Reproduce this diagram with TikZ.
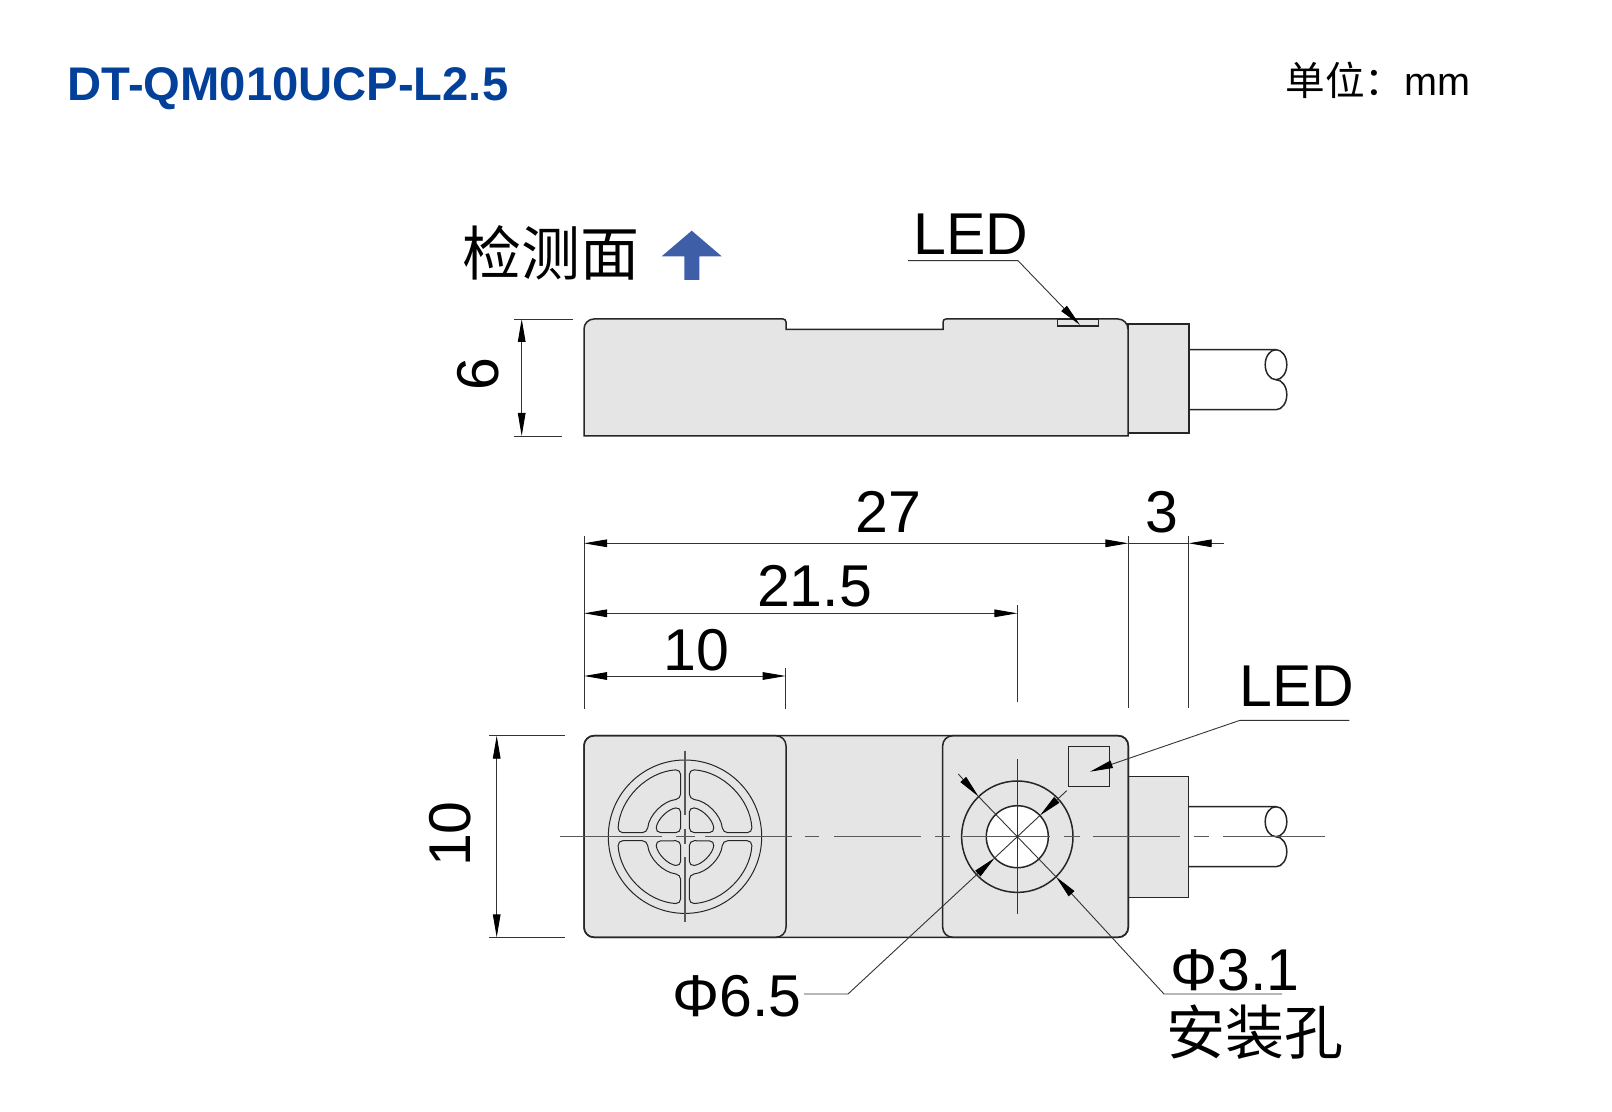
\documentclass[tikz,border=0pt]{standalone}
\usepackage{fontspec}
\setmainfont{Liberation Sans}
\newfontfamily\cjk{Noto Sans CJK SC}
\usetikzlibrary{arrows.meta}
\definecolor{bodygray}{HTML}{E5E5E5}
\definecolor{titleblue}{HTML}{03409A}
\definecolor{markblue}{HTML}{3F5EA8}
\tikzset{
  outline/.style={line width=.75pt,draw=black!85},
  thinline/.style={line width=.5pt,draw=black!85},
  dimline/.style={line width=.45pt,draw=black!80},
  centerline/.style={line width=.6pt,draw=black!65},
  txt/.style={inner sep=0pt,font=\fontsize{29.5}{30}\selectfont},
  cjktxt/.style={inner sep=0pt,font=\cjk\fontsize{29.5}{30}\selectfont}
}
\begin{document}
\begin{tikzpicture}[x=.5pt,y=-.5pt,>={Triangle[length=11.5pt,width=3.8pt,color=black]}]
\useasboundingbox (0,0) rectangle (1612,1112);
\node[inner sep=0pt,font=\bfseries\fontsize{23.6}{24}\selectfont,text=titleblue] (title) at (288,89) {DT-QM010UCP-L2.5};
\node[inner sep=0pt,font=\fontsize{19.8}{20}\selectfont] (unitlabel) at (1378,80) {{\cjk 单位：}mm};
\node[cjktxt] (facelabel) at (550.5,252.5) {检测面};
\fill[markblue] (691.7,230.7)--(721.7,256.3)--(699.3,256.3)--(699.3,280)--(684.3,280)--(684.3,256.3)--(661.7,256.3)--cycle;
\draw[outline,fill=white] (1189,349.7)--(1276,349.7) (1276,379.7) arc[start angle=-90,end angle=90,x radius=10.8,y radius=15]--(1189,409.7);
\draw[outline] (1276,364.7) ellipse[x radius=10.8,y radius=15];
\draw[outline,fill=bodygray] (1128,324) rectangle (1189,433);
\draw[outline,fill=bodygray] (584,436) [rounded corners=5pt]--(584,319) [rounded corners=1.5pt]--(786,319) [sharp corners]--(786,329.5)--(943,329.5) [rounded corners=1.5pt]--(943,319) [rounded corners=5pt]--(1128,319) [sharp corners]--(1128,436)--cycle;
\draw[outline] (1057.7,319) rectangle (1098.7,326);
\coordinate (ledtoptip) at (1080,325);
\node[txt] (ledtop) at (971,234.5) {LED};
\draw[dimline,->] (908,260.7)--(1018,260.7)--(ledtoptip);
\draw[dimline] (514,319)--(572.7,319) (514,436)--(562,436);
\draw[dimline,<->] (521.7,319)--(521.7,436);
\node[txt,rotate=90] (dimsix) at (478,374) {6};
\foreach \a/\b/\c in {584/535.7/709,1128.3/535.7/707.7,1188.7/535.7/707.7,1017.3/605/702.3,785.7/668.3/709}
  \draw[dimline] (\a,\b)--(\a,\c);
\draw[dimline,<->] (584,543.3)--(1128.3,543.3);
\draw[dimline] (1128.3,543.3)--(1188.7,543.3);
\draw[dimline,->] (1224,543.3)--(1188.7,543.3);
\draw[dimline,<->] (584,613.3)--(1017.3,613.3);
\draw[dimline,<->] (584,676)--(785.7,676);
\node[txt] (dimlong) at (888.5,512) {27};
\node[txt] (dimcable) at (1162,512) {3};
\node[txt] (dimhole) at (814.5,586) {21.5};
\node[txt] (dimface) at (696.5,650) {10};
\draw[outline,fill=white] (1189,806.7)--(1276,806.7) (1276,836.7) arc[start angle=-90,end angle=90,x radius=10.8,y radius=15]--(1189,866.7);
\draw[outline] (1276,821.7) ellipse[x radius=10.8,y radius=15];
\draw[outline,fill=bodygray] (1128.3,776.7) rectangle (1188.7,897.3);
\draw[outline,fill=bodygray,rounded corners=5pt] (584,735.7) rectangle (1128.3,937.3);
\draw[outline,rounded corners=5pt] (584,735.7) rectangle (786,937.3);
\draw[outline,rounded corners=5pt] (942.7,735.7) rectangle (1128.3,937.3);
\begin{scope}[shift={(685,836.7)},yscale=-1]
\draw[thinline] (0,0) circle (76.7);
\foreach \sx/\sy in {1/1,-1/1,1/-1,-1/-1}{
  \begin{scope}[xscale=\sx,yscale=\sy]
  \draw[thinline,rounded corners=2.5pt] (86.3:67.3) arc[start angle=86.3,end angle=3.4,radius=67.3]--(6:38) arc[start angle=6,end angle=83.5,radius=38]--cycle;
  \draw[thinline,rounded corners=2.5pt] (4.3,4)--(4.3,29.5) arc[start angle=81.6,end angle=8,radius=29.8]--cycle;
  \end{scope}}
\end{scope}
\draw[outline] (1068.7,746.3) rectangle (1109.3,786.7);
\coordinate (hole) at (1017.3,836.7);
\draw[outline] (hole) circle (55.7);
\draw[outline,fill=white] (hole) circle (31);
\foreach \a/\b in {560/662,676/695,705/792,805/819,834/921,935/950,963/1050,1064/1080,1093/1180,1194/1209,1223/1325}
  \draw[centerline] (\a,836.7)--(\b,836.7);
\foreach \a/\b in {750.7/815,829/844,857/922}
  \draw[centerline] (685,\a)--(685,\b);
\draw[dimline] (1017.3,759)--(1017.3,914);
\draw[dimline] (489,735.7)--(565,735.7) (489,937.3)--(565,937.3);
\draw[dimline,<->] (496.7,735.7)--(496.7,937.3);
\node[txt,rotate=90] (dimten) at (450,834) {10};
\coordinate (outerA) at (978.6,796.6);
\coordinate (outerB) at (1056,876.8);
\coordinate (innerC) at (1039.9,815.5);
\coordinate (innerD) at (994.7,857.9);
\coordinate (ledtip) at (1090,771.7);
\draw[dimline,->] (958.3,774)--(outerA);
\draw[dimline] (outerA)--(outerB) (innerC)--(innerD);
\draw[dimline,->] (1066.7,790.7)--(innerC);
\draw[dimline,->] (1282,994)--(1164,994)--(outerB);
\draw[dimline,->] (804,994)--(848,994)--(innerD);
\draw[dimline,->] (1349.3,720.3)--(1240,720.3)--(ledtip);
\node[txt] (ledbottom) at (1297,686.5) {LED};
\node[txt] (diasmall) at (1235,970.5) {Φ3.1};
\node[txt] (dialarge) at (737,996.5) {Φ6.5};
\node[cjktxt] (holelabel) at (1254.5,1032) {安装孔};
\end{tikzpicture}
\end{document}
